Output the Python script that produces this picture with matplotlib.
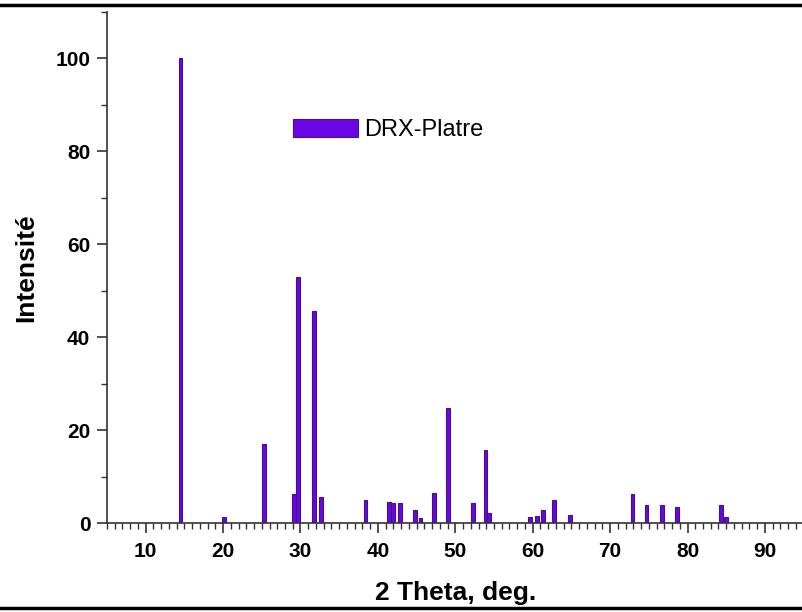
import matplotlib
matplotlib.use("Agg")
import matplotlib.pyplot as plt
from matplotlib.ticker import MultipleLocator
from matplotlib.lines import Line2D

# Peak positions (2 theta, deg.) and relative intensities
two_theta = [14.5, 20.1, 25.3, 29.2, 29.7, 31.8, 32.6, 38.4, 41.4, 41.9,
             42.8, 44.8, 45.5, 47.3, 49.1, 52.3, 53.9, 54.4, 59.7, 60.5,
             61.3, 62.7, 64.8, 72.9, 74.7, 76.7, 78.6, 84.3, 85.0]
intensity = [100, 1.3, 17, 6.2, 53, 45.5, 5.5, 5.0, 4.5, 4.3,
             4.3, 2.8, 1.0, 6.5, 24.7, 4.2, 15.8, 2.1, 1.2, 1.6,
             2.8, 5.0, 1.7, 6.2, 3.8, 3.8, 3.4, 3.8, 1.2]
series_name = "DRX-Platre"

plt.rcParams["font.family"] = ["Liberation Sans", "DejaVu Sans"]

fig = plt.figure(figsize=(8.02, 6.12), dpi=100)
ax = fig.add_axes([0.1334, 0.1454, 0.8686, 0.8358])

ax.bar(two_theta, intensity, width=0.5, color="#6a06e6", edgecolor="#3d1680",
       linewidth=0.8, label=series_name)

ax.set_xlim(5, 95)
ax.set_ylim(0, 110)
ax.xaxis.set_major_locator(MultipleLocator(10))
ax.xaxis.set_minor_locator(MultipleLocator(1))
ax.yaxis.set_major_locator(MultipleLocator(20))
ax.yaxis.set_minor_locator(MultipleLocator(10))
ax.set_xticks([10, 20, 30, 40, 50, 60, 70, 80, 90])

for s in ("top", "right"):
    ax.spines[s].set_visible(False)
for s in ("left", "bottom"):
    ax.spines[s].set_linewidth(1.2)
    ax.spines[s].set_color("#333333")

ax.tick_params(which="major", direction="out", length=7, width=1.2, color="#333333",
               labelsize=15, pad=5)
ax.tick_params(axis="x", which="major", pad=7)
ax.tick_params(which="minor", direction="out", length=4, width=1.0, color="#333333")
for lab in ax.get_xticklabels() + ax.get_yticklabels():
    lab.set_fontweight("bold")

ax.set_xlabel("2 Theta, deg.", fontsize=19, fontweight="bold", labelpad=14)
ax.set_ylabel("Intensité", fontsize=19, fontweight="bold", labelpad=12)

ax.legend(loc="center left", bbox_to_anchor=(0.237, 0.768), frameon=False,
          handlelength=2.75, handleheight=0.76, handletextpad=0.25,
          prop={"family": ["Liberation Sans", "DejaVu Sans"], "size": 17})

# Page rules above and below the figure
fig.add_artist(Line2D([0, 1], [1 - 5 / 612, 1 - 5 / 612], color="black", linewidth=2.5,
                      transform=fig.transFigure))
fig.add_artist(Line2D([0, 1], [4 / 612, 4 / 612], color="black", linewidth=2.5,
                      transform=fig.transFigure))

fig.savefig("out.png", dpi=100)
